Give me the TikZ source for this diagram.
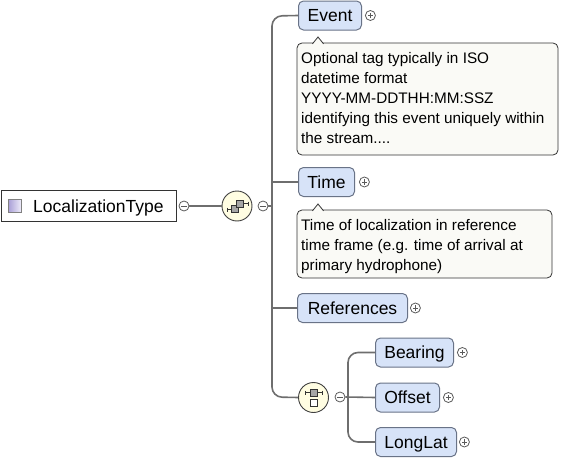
\documentclass[tikz,border=0pt]{standalone}
\usepackage{fontspec}
\setmainfont{Liberation Sans}
\usetikzlibrary{positioning}

\definecolor{elemfill}{RGB}{215,227,248}
\definecolor{elemborder}{RGB}{105,115,135}
\definecolor{conngray}{RGB}{110,110,110}
\definecolor{signgray}{RGB}{90,90,90}
\definecolor{compfill}{RGB}{255,253,226}
\definecolor{docfill}{RGB}{250,250,246}
\definecolor{icondark}{RGB}{170,160,215}
\definecolor{iconlight}{RGB}{240,238,250}

\newcommand\elemfont{\fontsize{17.5}{20}\selectfont}
\newcommand\doctextfont{\fontsize{15.3}{20}\selectfont}

\begin{document}
\begin{tikzpicture}
		[x=1pt, y=-1pt,
		elem/.style={draw=elemborder, fill=elemfill, rounded corners=5pt, minimum height=29pt,
			inner sep=0pt, text height=14pt, text depth=2pt, anchor=west, font=\elemfont, line width=1pt},
		pm/.style={draw=signgray, fill=white, circle, minimum size=10pt, inner sep=0pt, line width=0.8pt},
		sign/.style={draw=signgray, line width=0.8pt},
		conn/.style={draw=conngray, line width=1.6pt},
		compositor/.style={draw=black!75, fill=compfill, circle, minimum size=30pt, inner sep=0pt, line width=0.9pt},
		doc/.style={draw=black!80, fill=docfill, line width=0.8pt},
		doctext/.style={anchor=north west, align=left, inner sep=0pt, font=\doctextfont}]
		\useasboundingbox (0,0) rectangle (566,463);

		% root type
		\node[draw=black!80, fill=white, minimum width=175pt, minimum height=31pt, inner sep=0pt,
			anchor=west, line width=1pt] (root) at (0.5,206) {};
		\node[draw=gray, left color=icondark, right color=iconlight, minimum size=13pt, inner sep=0pt] (rooticon) at (15,206) {};
		\node[anchor=base west, font=\elemfont, inner sep=0pt] (rootlabel) at (33,212) {LocalizationType};
		\node[pm] (rootminus) at (184,206) {};

		% sequence compositor
		\node[compositor] (seq) at (237,206) {};
		\node[pm] (seqminus) at (263,206) {};
		\coordinate (trunktop) at (272,16);
		\coordinate (trunkbot) at (272,397);

		% children
		\node[elem, minimum width=63pt] (event) at (298,15.5) {Event};
		\node[pm, right=3pt of event] (eventplus) {};
		\node[elem, minimum width=56pt] (time) at (298,182) {Time};
		\node[pm, right=4pt of time] (timeplus) {};
		\node[elem, minimum width=110pt] (refs) at (297,308) {References};
		\node[pm, right=2pt of refs] (refsplus) {};

		% choice compositor
		\node[compositor] (choice) at (313.5,397.5) {};
		\node[pm] (choiceminus) at (340,397) {};
		\coordinate (subtop) at (348,352.5);
		\coordinate (subbot) at (348,442);
		\node[elem, minimum width=78pt] (bearing) at (375,352.5) {Bearing};
		\node[pm, right=3pt of bearing] (bearingplus) {};
		\node[elem, minimum width=64pt] (offset) at (375,397.5) {Offset};
		\node[pm, right=3pt of offset] (offsetplus) {};
		\node[elem, minimum width=81pt] (longlat) at (375,442) {LongLat};
		\node[pm, right=2pt of longlat] (longlatplus) {};

		% annotations
		\draw[doc, rounded corners=5pt] (297,43) rectangle (558,155);
		\filldraw[doc] (312.5,43.8) -- (318,37) -- (323.5,43.8);
		\node[doctext] (eventdoc) at (301,52) {Optional tag typically in ISO\\ datetime format\\
			YYYY-MM-DDTHH:MM:SSZ\\ identifying this event uniquely within\\ the stream....};
		\draw[doc, rounded corners=5pt] (297,210) rectangle (552,278);
		\filldraw[doc] (312.5,210.8) -- (318,204) -- (323.5,210.8);
		\node[doctext] (timedoc) at (301,219) {Time of localization in reference\\
			time frame (e.g. time of arrival at\\ primary hydrophone)};

		% connectors
		\draw[conn] (rootminus) -- (seq);
		\draw[conn] (seqminus.east) -- (seqminus.east -| trunktop);
		\draw[conn, rounded corners=10pt] (event.west) -- (trunktop) -- (trunkbot) -- (choice.west);
		\draw[conn] (time.west -| trunktop) -- (time.west);
		\draw[conn] (refs.west -| trunktop) -- (refs.west);
		\draw[conn] (choiceminus.east) -- (offset.west);
		\draw[conn, rounded corners=10pt] (bearing.west) -- (subtop) -- (subbot) -- (longlat.west);

		% plus and minus signs
		\foreach \n in {rootminus, seqminus, choiceminus, eventplus, timeplus, refsplus, bearingplus, offsetplus, longlatplus}
			\draw[sign] ([xshift=-2.6pt]\n.center) -- ([xshift=2.6pt]\n.center);
		\foreach \n in {eventplus, timeplus, refsplus, bearingplus, offsetplus, longlatplus}
			\draw[sign] ([yshift=-2.6pt]\n.center) -- ([yshift=2.6pt]\n.center);

		% compositor icons
		\draw[black!80, line width=0.8pt] (227,207.5) -- (227,211.5) (227,209.5) -- (232,209.5)
			(243,203.5) -- (248,203.5) (248,201.5) -- (248,205.5);
		\filldraw[draw=black!80, fill=gray!70, line width=0.7pt] (231.5,205.5) rectangle (238.5,212.5);
		\filldraw[draw=black!80, fill=gray!70, line width=0.7pt] (236.5,200) rectangle (243.5,207);
		\draw[black!80, line width=0.8pt] (305,390.5) -- (305,394.5) (305,392.5) -- (322,392.5)
			(322,390.5) -- (322,394.5);
		\filldraw[draw=black!80, fill=gray!70, line width=0.7pt] (310,389) rectangle (317,396);
		\filldraw[draw=black!80, fill=white, line width=0.7pt] (310,399.5) rectangle (317,406.5);
	\end{tikzpicture}
\end{document}
